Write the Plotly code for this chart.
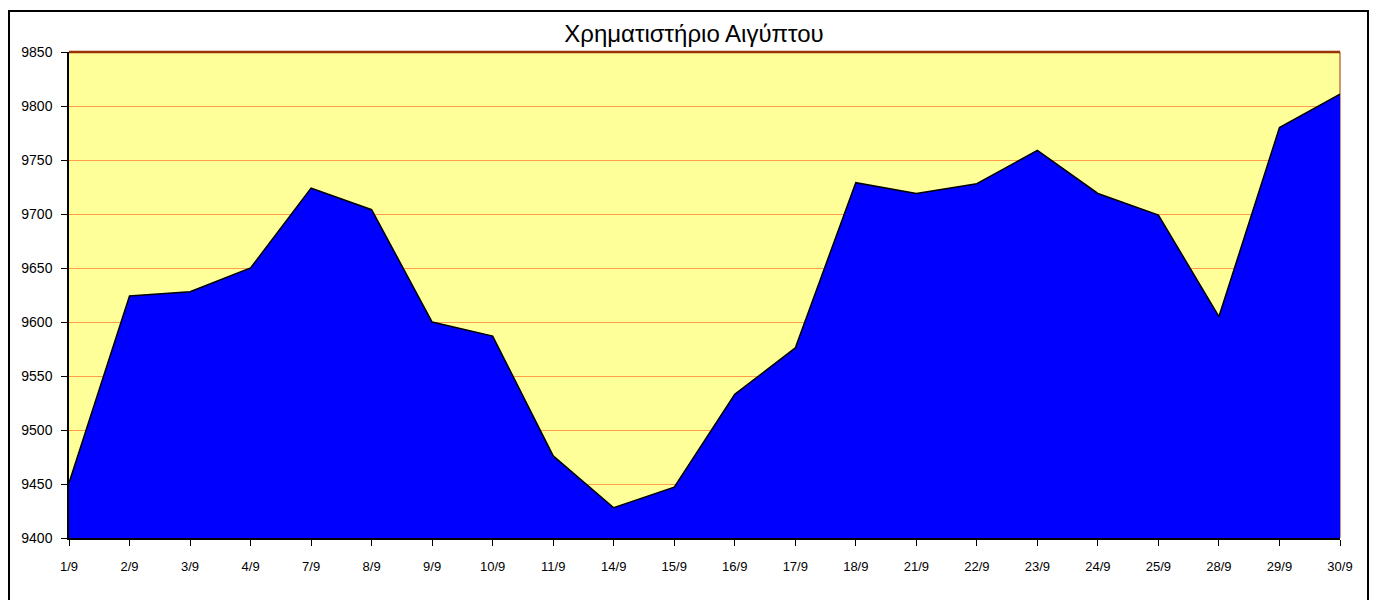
import plotly.graph_objects as go

dates = ["1/9", "2/9", "3/9", "4/9", "7/9", "8/9", "9/9", "10/9", "11/9", "14/9", "15/9",
         "16/9", "17/9", "18/9", "21/9", "22/9", "23/9", "24/9", "25/9", "28/9", "29/9", "30/9"]
values = [9451, 9624, 9628, 9650, 9724, 9704, 9600, 9587, 9476, 9428, 9447,
          9533, 9576, 9729, 9719, 9728, 9759, 9719, 9699, 9605, 9780, 9811]
y_ticks = [9400, 9450, 9500, 9550, 9600, 9650, 9700, 9750, 9800, 9850]
y_tick_labels = ["9400", "9450", "9500", "9550", "9600", "9650", "9700", "9750", "9800", "9850"]
title_text = "Χρηματιστήριο Αιγύπτου"

FONT = "Liberation Sans Narrow, Arial Narrow, Liberation Sans, Arial, sans-serif"

fig = go.Figure()
fig.add_trace(go.Scatter(
    x=list(range(len(dates))), y=values, mode="lines",
    fill="tozeroy", fillcolor="#0000FF",
    line=dict(color="black", width=1.5),
    hoverinfo="skip", showlegend=False,
))

# the page body adds an 8px offset; figure coordinates = screen - 8
W, H = 1380, 592
L, R, T, B = 61, 48, 44, 62
pw, ph = W - L - R, H - T - B

def px_x(p):
    return (p - L) / pw

def px_y(p):
    return (H - B - p) / ph

fig.update_layout(
    width=W, height=H,
    margin=dict(l=L, r=R, t=T, b=B, autoexpand=False),
    paper_bgcolor="white",
    plot_bgcolor="#FFFF99",
    font=dict(family=FONT, color="black"),
    title=dict(text=title_text, x=686 / W, xref="container", xanchor="center",
               y=1 - 26 / H, yref="container", yanchor="middle",
               font=dict(family=FONT, size=24, color="black")),
    xaxis=dict(
        tickmode="array", tickvals=list(range(len(dates))), ticktext=dates,
        range=[0, len(dates) - 1],
        showgrid=False, zeroline=False, automargin=False,
        showline=True, linecolor="black", linewidth=2,
        ticks="outside", ticklen=6, tickcolor="black", tickwidth=1,
        tickfont=dict(family=FONT, size=13, color="black"),
        ticklabelstandoff=9,
    ),
    yaxis=dict(
        range=[9400, 9850], tickmode="array", tickvals=y_ticks, ticktext=y_tick_labels,
        showgrid=True, gridcolor="#FF9F4A", gridwidth=1,
        zeroline=False, automargin=False,
        showline=True, linecolor="black", linewidth=1.5,
        ticks="outside", ticklen=6, tickcolor="black", tickwidth=1,
        tickfont=dict(family=FONT, size=14, color="black"),
        ticklabelstandoff=6,
    ),
    shapes=[
        dict(type="line", xref="paper", yref="paper", x0=0, x1=1, y0=1, y1=1,
             line=dict(color="#993300", width=2.5), layer="above"),
        dict(type="line", xref="paper", yref="paper", x0=1, x1=1, y0=0, y1=1,
             line=dict(color="#993300", width=1), layer="below"),
        dict(type="rect", xref="paper", yref="paper",
             x0=px_x(1), x1=px_x(1360), y0=px_y(640), y1=px_y(3),
             line=dict(color="black", width=2), fillcolor="rgba(0,0,0,0)", layer="above"),
    ],
)

fig.write_html("out.html")
